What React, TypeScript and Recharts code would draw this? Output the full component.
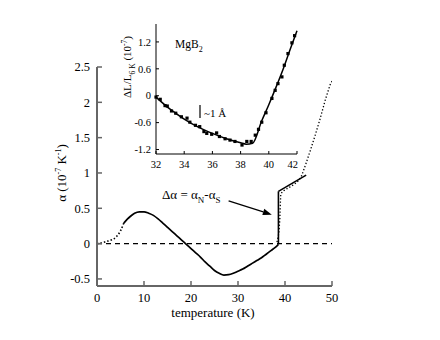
import { ComposedChart, Line, Scatter, XAxis, YAxis, ReferenceLine } from 'recharts';

const serif = 'Liberation Serif, Times New Roman, serif';

// main panel: thermal expansion alpha (1e-7 / K) vs temperature (K)
const lowT = [0, 1, 2, 3, 4, 5, 5.7];
const lowAlpha = [0, 0.01, 0.03, 0.05, 0.09, 0.18, 0.29];

const mainT = [5.7, 6.5, 7, 8, 9, 10, 11, 12, 13, 14, 15, 16, 17, 18, 19, 20, 21, 22, 23, 24, 25, 26, 27, 28, 29, 30, 31, 32, 33, 34, 35, 36, 37, 38, 38.6];
const mainAlpha = [0.29, 0.35, 0.38, 0.43, 0.45, 0.45, 0.43, 0.4, 0.35, 0.29, 0.23, 0.17, 0.11, 0.05, -0.01, -0.07, -0.13, -0.19, -0.26, -0.32, -0.38, -0.42, -0.445, -0.44, -0.42, -0.39, -0.36, -0.32, -0.28, -0.24, -0.2, -0.15, -0.1, -0.05, -0.01];

const jumpT = [38.6, 38.6];
const jumpAlpha = [-0.01, 0.74];

const normalT = [38.6, 44.5];
const normalAlpha = [0.74, 0.97];

const highT = [38.3, 38.7, 38.9, 39.0, 39.1, 39.5, 40, 41, 42, 43, 43.6, 44.5, 45.4, 46.4, 47.4, 48.6, 49.6, 50];
const highAlpha = [0.02, 0.15, 0.35, 0.55, 0.7, 0.74, 0.76, 0.8, 0.84, 0.9, 0.97, 1.14, 1.32, 1.53, 1.75, 2.04, 2.25, 2.3];

// inset: dL/L (1e-7) vs temperature
const insetT = [32.0, 32.3, 32.64, 32.8, 33.1, 33.4, 33.8, 34.2, 34.4, 34.8, 35.1, 35.4, 35.6, 35.95, 36.3, 36.5, 36.9, 37.25, 37.6, 38.1, 38.44, 38.75, 39.04, 39.27, 39.5, 39.8, 40.22, 40.45, 40.65, 40.93, 41.1, 41.36, 41.64, 41.83];
const insetDL = [-0.03, -0.08, -0.22, -0.23, -0.34, -0.39, -0.47, -0.5, -0.59, -0.66, -0.69, -0.8, -0.84, -0.86, -0.83, -0.91, -0.96, -0.99, -1.02, -1.1, -1.02, -1.02, -0.88, -0.75, -0.59, -0.38, -0.06, 0.12, 0.27, 0.42, 0.68, 0.94, 1.18, 1.34];

const fitT = [32, 33, 34, 35, 36, 37, 38, 38.4, 38.85, 39.5, 40, 40.5, 41, 41.5, 42];
const fitDL = [-0.03, -0.3, -0.52, -0.7, -0.84, -0.96, -1.05, -1.08, -1.06, -0.56, -0.2, 0.18, 0.58, 1.02, 1.45];

const mainXTicks = [0, 10, 20, 30, 40, 50];
const mainYTicks = [-0.5, 0, 0.5, 1, 1.5, 2, 2.5];
const insetXTicks = [32, 34, 36, 38, 40, 42];
const insetYTicks = [-1.2, -0.6, 0, 0.6, 1.2];

const pts = (xs: number[], ys: number[]) => xs.map((x, i) => ({ x, y: ys[i] }));

const frame = '#666';

const Arrow = (p: any) => {
  const { x1, y1, x2, y2 } = p;
  const a = Math.atan2(y2 - y1, x2 - x1);
  const L = 9;
  const W = 3.2;
  const bx = x2 - L * Math.cos(a);
  const by = y2 - L * Math.sin(a);
  const nx = -Math.sin(a) * W;
  const ny = Math.cos(a) * W;
  return (
    <g>
      <line x1={x1} y1={y1} x2={bx} y2={by} stroke="#000" strokeWidth={1.2} />
      <polygon points={`${x2},${y2} ${bx + nx},${by + ny} ${bx - nx},${by - ny}`} fill="#000" />
    </g>
  );
};

const Square = (p: any) => <rect x={p.cx - 1.6} y={p.cy - 1.6} width={3.2} height={3.2} fill="#000" />;

export default function App() {
  const tickMain = { fontSize: 12.5, fill: '#000', fontFamily: serif, style: { fontFamily: serif } };
  const tickInset = { fontSize: 10.5, fill: '#000', fontFamily: serif, style: { fontFamily: serif } };

  return (
    <div style={{ position: 'absolute', left: 0, top: 0, width: 440, height: 340, background: '#fff', fontFamily: serif }}>
      <ComposedChart width={440} height={340} margin={{ top: 67, right: 108, bottom: 24, left: 57 }} style={{ fontFamily: serif }}>
        <XAxis
          type="number"
          dataKey="x"
          domain={[0, 50]}
          ticks={mainXTicks}
          height={30}
          tick={tickMain}
          tickSize={-5}
          tickMargin={12}
          axisLine={{ stroke: frame, strokeWidth: 2 }}
          tickLine={{ stroke: frame, strokeWidth: 1.5 }}
          allowDataOverflow
        />
        <XAxis xAxisId="top" orientation="top" type="number" domain={[0, 50]} height={0} tick={false} tickLine={false} axisLine={{ stroke: frame, strokeWidth: 2 }} />
        <YAxis
          type="number"
          dataKey="y"
          domain={[-0.6, 2.5]}
          ticks={mainYTicks}
          width={40}
          tick={tickMain}
          tickSize={-5}
          tickMargin={12}
          axisLine={{ stroke: frame, strokeWidth: 2 }}
          tickLine={{ stroke: frame, strokeWidth: 1.5 }}
          allowDataOverflow
        />
        <YAxis
          yAxisId="right"
          orientation="right"
          type="number"
          domain={[-0.6, 2.5]}
          ticks={mainYTicks}
          width={0}
          tick={false}
          tickSize={-5}
          axisLine={{ stroke: frame, strokeWidth: 2 }}
          tickLine={{ stroke: frame, strokeWidth: 1.5 }}
        />
        <ReferenceLine y={0} stroke="#000" strokeWidth={1.1} strokeDasharray="5 4" />
        <Line data={pts(lowT, lowAlpha)} dataKey="y" type="monotone" stroke="#000" strokeWidth={1.6} strokeDasharray="1.5 2" dot={false} isAnimationActive={false} />
        <Line data={pts(highT, highAlpha)} dataKey="y" type="linear" stroke="#000" strokeWidth={1.3} strokeDasharray="1.3 2" dot={false} isAnimationActive={false} />
        <Line data={pts(mainT, mainAlpha)} dataKey="y" type="monotone" stroke="#000" strokeWidth={1.7} dot={false} isAnimationActive={false} />
        <Line data={pts(jumpT, jumpAlpha)} dataKey="y" type="linear" stroke="#000" strokeWidth={1.6} dot={false} isAnimationActive={false} />
        <Line data={pts(normalT, normalAlpha)} dataKey="y" type="linear" stroke="#000" strokeWidth={1.6} dot={false} isAnimationActive={false} />
        <ReferenceLine segment={[{ x: 28.0, y: 0.605 }, { x: 37.2, y: 0.41 }]} shape={Arrow} />
      </ComposedChart>

      <div style={{ position: 'absolute', left: 125, top: 0, width: 173, height: 172, background: '#fff' }}>
        <ComposedChart width={173} height={172} margin={{ top: 24, right: 1, bottom: 0, left: 9 }} style={{ fontFamily: serif }}>
          <XAxis
            type="number"
            dataKey="x"
            domain={[32, 42]}
            ticks={insetXTicks}
            height={18}
            tick={tickInset}
            tickSize={-3}
            tickMargin={10}
            axisLine={{ stroke: '#000', strokeWidth: 1 }}
            tickLine={{ stroke: '#000' }}
          />
          <XAxis xAxisId="top" orientation="top" type="number" domain={[32, 42]} ticks={insetXTicks} height={0} tick={false} tickSize={-3} axisLine={{ stroke: '#000' }} tickLine={{ stroke: '#000' }} />
          <YAxis
            type="number"
            dataKey="y"
            domain={[-1.3, 1.6]}
            ticks={insetYTicks}
            width={22}
            tick={tickInset}
            tickSize={-3}
            tickMargin={8}
            axisLine={{ stroke: '#000', strokeWidth: 1 }}
            tickLine={{ stroke: '#000' }}
          />
          <YAxis yAxisId="right" orientation="right" type="number" domain={[-1.3, 1.6]} ticks={insetYTicks} width={0} tick={false} tickSize={-3} axisLine={{ stroke: '#000' }} tickLine={{ stroke: '#000' }} />
          <Line data={pts(fitT, fitDL)} dataKey="y" type="monotone" stroke="#000" strokeWidth={1.5} dot={false} isAnimationActive={false} />
          <Scatter data={pts(insetT, insetDL)} dataKey="y" shape={Square} isAnimationActive={false} />
        </ComposedChart>
      </div>

      <svg width={440} height={340} style={{ position: 'absolute', left: 0, top: 0, pointerEvents: 'none', fontFamily: serif }}>
        <text x={213} y={317} fontSize={13} textAnchor="middle">temperature (K)</text>
        <text transform="translate(66,173) rotate(-90)" fontSize={13} textAnchor="middle">
          α (10<tspan dy={-5} fontSize={8}>-7</tspan><tspan dy={5}> K</tspan><tspan dy={-5} fontSize={8}>-1</tspan><tspan dy={5}>)</tspan>
        </text>
        <text x={162} y={199} fontSize={13}>
          Δα = α<tspan dy={4} fontSize={9}>N</tspan><tspan dy={-4}>-α</tspan><tspan dy={4} fontSize={9}>S</tspan>
        </text>
        <text transform="translate(131,67) rotate(-90)" fontSize={11} textAnchor="middle">
          ΔL/L<tspan dy={4} fontSize={7.5}>6 K</tspan><tspan dy={-4}> (10</tspan><tspan dy={-4} fontSize={7.5}>-7</tspan><tspan dy={4}>)</tspan>
        </text>
        <text x={175} y={48} fontSize={11.5}>
          MgB<tspan dy={4} fontSize={8}>2</tspan>
        </text>
        <line x1={200} y1={105} x2={200} y2={118} stroke="#000" strokeWidth={1.2} />
        <text x={204} y={117} fontSize={11}>~1 Å</text>
      </svg>
    </div>
  );
}
